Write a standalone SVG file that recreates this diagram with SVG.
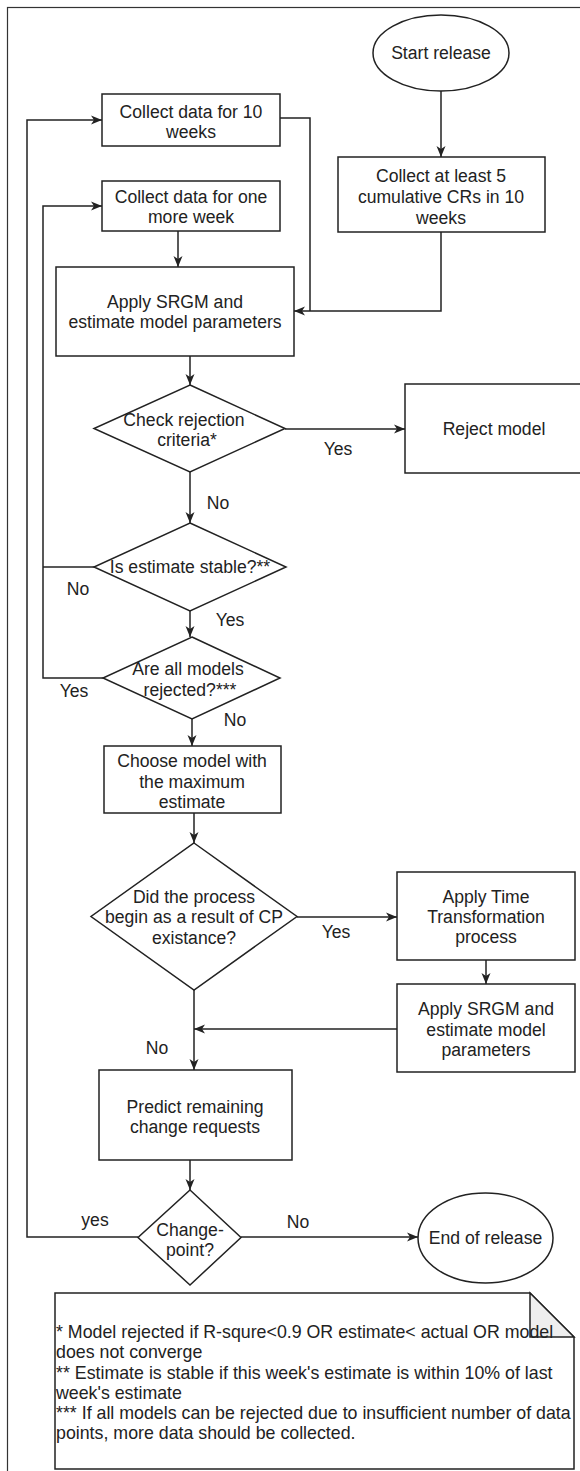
<svg xmlns="http://www.w3.org/2000/svg" width="580" height="1471" viewBox="0 0 580 1471">
  <style>
    .shape { fill: #ffffff; stroke: #222222; stroke-width: 1.5; }
    .edge { fill: none; stroke: #222222; stroke-width: 1.5; }
    .frame { fill: none; stroke: #333333; stroke-width: 1.2; }
    text { font-family: "Liberation Sans", Arial, sans-serif; font-size: 17.6px; fill: #222222; }
    .c { text-anchor: middle; }
    .note { font-size: 17.8px; }
    .fold { fill: #eeeeee; stroke: #222222; stroke-width: 1.5; }
  </style>
  <defs>
    <marker id="arrow" markerUnits="userSpaceOnUse" markerWidth="12" markerHeight="10" refX="11" refY="5" orient="auto">
      <path d="M0,0.5 L11,5 L0,9.5 L3,5 Z" fill="#222222"/>
    </marker>
  </defs>

  <rect class="frame" x="7.5" y="7.5" width="600" height="1500" fill="#ffffff"/>

  <!-- connectors -->
  <g id="edges">
    <path class="edge" d="M441,90 V157" marker-end="url(#arrow)"/>
    <path class="edge" d="M441,232 V311 H294" marker-end="url(#arrow)"/>
    <path class="edge" d="M280,118 H310 V311"/>
    <path class="edge" d="M178,231 V267" marker-end="url(#arrow)"/>
    <path class="edge" d="M190,356 V385" marker-end="url(#arrow)"/>
    <path class="edge" d="M285,429 H405" marker-end="url(#arrow)"/>
    <path class="edge" d="M190,472 V523" marker-end="url(#arrow)"/>
    <path class="edge" d="M94,567 H43"/>
    <path class="edge" d="M190,611 V637" marker-end="url(#arrow)"/>
    <path class="edge" d="M103,678 H43 V206 H102" marker-end="url(#arrow)"/>
    <path class="edge" d="M192,719 V746" marker-end="url(#arrow)"/>
    <path class="edge" d="M194,813 V843" marker-end="url(#arrow)"/>
    <path class="edge" d="M297,917 H397" marker-end="url(#arrow)"/>
    <path class="edge" d="M486,960 V984" marker-end="url(#arrow)"/>
    <path class="edge" d="M397,1029 H194" marker-end="url(#arrow)"/>
    <path class="edge" d="M194,990 V1070" marker-end="url(#arrow)"/>
    <path class="edge" d="M190,1160 V1190" marker-end="url(#arrow)"/>
    <path class="edge" d="M138,1237 H27 V120 H102" marker-end="url(#arrow)"/>
    <path class="edge" d="M241,1237 H418" marker-end="url(#arrow)"/>

    <text class="c" x="338" y="455">Yes</text>
    <text class="c" x="218" y="509">No</text>
    <text class="c" x="78" y="595">No</text>
    <text class="c" x="230" y="626">Yes</text>
    <text class="c" x="74" y="697">Yes</text>
    <text class="c" x="235" y="726">No</text>
    <text class="c" x="336" y="938">Yes</text>
    <text class="c" x="157" y="1054">No</text>
    <text class="c" x="95" y="1226">yes</text>
    <text class="c" x="298" y="1228">No</text>
  </g>

  <g id="start-release">
    <ellipse class="shape" cx="441" cy="53" rx="68" ry="38"/>
    <text class="c" x="441" y="59">Start release</text>
  </g>

  <g id="collect-ten-weeks">
    <rect class="shape" x="102" y="94" width="178" height="52"/>
    <text class="c" x="191" y="118">Collect data for 10</text>
    <text class="c" x="191" y="138">weeks</text>
  </g>

  <g id="collect-one-more-week">
    <rect class="shape" x="102" y="181" width="178" height="50"/>
    <text class="c" x="191" y="203">Collect data for one</text>
    <text class="c" x="191" y="223">more week</text>
  </g>

  <g id="collect-cumulative">
    <rect class="shape" x="338" y="157" width="207" height="75"/>
    <text class="c" x="441" y="182">Collect at least 5</text>
    <text class="c" x="441" y="203">cumulative CRs in 10</text>
    <text class="c" x="441" y="224">weeks</text>
  </g>

  <g id="apply-srgm">
    <rect class="shape" x="56" y="267" width="238" height="89"/>
    <text class="c" x="175" y="308">Apply SRGM and</text>
    <text class="c" x="175" y="328">estimate model parameters</text>
  </g>

  <g id="check-rejection">
    <polygon class="shape" points="190,385 285,428.5 190,472 94,428.5"/>
    <text class="c" x="184" y="426">Check rejection</text>
    <text class="c" x="187" y="446">criteria*</text>
  </g>

  <g id="reject-model">
    <rect class="shape" x="405" y="384" width="180" height="89"/>
    <text class="c" x="494" y="435">Reject model</text>
  </g>

  <g id="estimate-stable">
    <polygon class="shape" points="190,523 286,567 190,611 94,567"/>
    <text class="c" x="190" y="573">Is estimate stable?**</text>
  </g>

  <g id="all-rejected">
    <polygon class="shape" points="192,637 280,678 192,719 103,678"/>
    <text class="c" x="188" y="675">Are all models</text>
    <text class="c" x="190" y="696">rejected?***</text>
  </g>

  <g id="choose-model">
    <rect class="shape" x="104" y="746" width="177" height="67"/>
    <text class="c" x="192" y="767">Choose model with</text>
    <text class="c" x="192" y="788">the maximum</text>
    <text class="c" x="192" y="808">estimate</text>
  </g>

  <g id="cp-existence">
    <polygon class="shape" points="194,843 297,916.5 194,990 91,916.5"/>
    <text class="c" x="194" y="903">Did the process</text>
    <text class="c" x="194" y="923">begin as a result of CP</text>
    <text class="c" x="194" y="944">existance?</text>
  </g>

  <g id="time-transformation">
    <rect class="shape" x="397" y="872" width="178" height="88"/>
    <text class="c" x="486" y="903">Apply Time</text>
    <text class="c" x="486" y="923">Transformation</text>
    <text class="c" x="486" y="943">process</text>
  </g>

  <g id="apply-srgm-again">
    <rect class="shape" x="397" y="984" width="178" height="88"/>
    <text class="c" x="486" y="1015">Apply SRGM and</text>
    <text class="c" x="486" y="1036">estimate model</text>
    <text class="c" x="486" y="1056">parameters</text>
  </g>

  <g id="predict-remaining">
    <rect class="shape" x="99" y="1070" width="193" height="90"/>
    <text class="c" x="195" y="1113">Predict remaining</text>
    <text class="c" x="195" y="1133">change requests</text>
  </g>

  <g id="change-point">
    <polygon class="shape" points="190,1190 241,1237.5 190,1285 138,1237.5"/>
    <text class="c" x="190" y="1236">Change-</text>
    <text class="c" x="190" y="1256">point?</text>
  </g>

  <g id="end-release">
    <ellipse class="shape" cx="485.5" cy="1238" rx="67.5" ry="45"/>
    <text class="c" x="485.5" y="1244">End of release</text>
  </g>

  <g id="footnote">
    <path class="shape" d="M55,1293 H530 L574,1337 V1469 H55 Z"/>
    <path class="fold" d="M530,1293 V1337 H574 Z"/>
    <text class="note" x="56" y="1338">* Model rejected if R-squre&lt;0.9 OR estimate&lt; actual OR model</text>
    <text class="note" x="56" y="1358">does not converge</text>
    <text class="note" x="56" y="1379">** Estimate is stable if this week's estimate is within 10% of last</text>
    <text class="note" x="56" y="1399">week's estimate</text>
    <text class="note" x="56" y="1419">*** If all models can be rejected due to insufficient number of data</text>
    <text class="note" x="56" y="1439">points, more data should be collected.</text>
  </g>
</svg>
